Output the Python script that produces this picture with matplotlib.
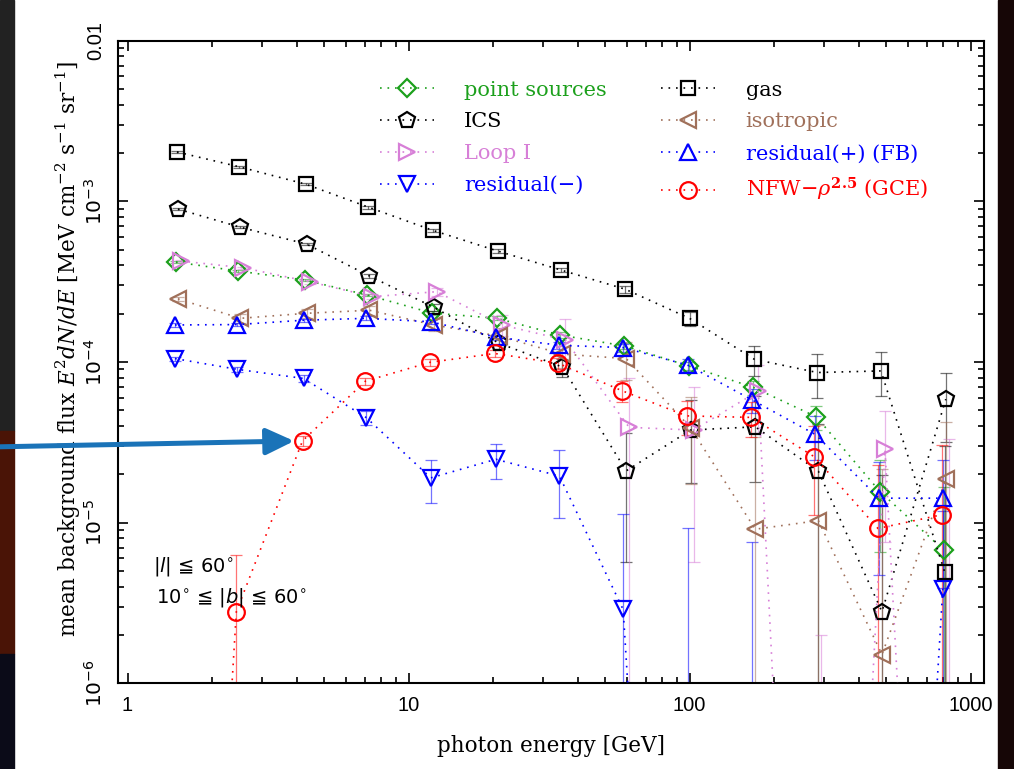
import numpy as np
import matplotlib
matplotlib.use('Agg')
import matplotlib.pyplot as plt
from matplotlib.patches import Rectangle
from matplotlib.ticker import NullFormatter

plt.rcParams['mathtext.fontset'] = 'dejavuserif'

# photon energy bins [GeV]
energy = [1.5, 2.5, 4.3, 7.2, 12.2, 20.8, 35.0, 59.0, 100.0, 170.0, 285.0, 480.0, 810.0]

# E^2 dN/dE [MeV cm^-2 s^-1 sr^-1] and 1-sigma errors
point_sources = [4.19e-4, 3.68e-4, 3.24e-4, 2.61e-4, 2.02e-4, 1.87e-4, 1.47e-4, 1.26e-4, 9.46e-5, 6.95e-5, 4.56e-5, 1.56e-5, 6.74e-6]
point_sources_err = [5e-6, 5e-6, 5e-6, 5e-6, 5e-6, 5e-6, 6e-6, 6e-6, 6e-6, 7e-6, 8e-6, 9e-6, 1e-5]
ics = [8.95e-4, 6.9e-4, 5.42e-4, 3.43e-4, 2.19e-4, 1.31e-4, 9.3e-5, 2.1e-5, 3.77e-5, 3.95e-5, 2.09e-5, 2.79e-6, 5.87e-5]
ics_err = [1e-5, 1e-5, 1e-5, 1e-5, 1e-5, 1.1e-5, 1.2e-5, 1.53e-5, 2.0e-5, 2.16e-5, 2.0e-5, 1.7e-5, 2.7e-5]
loop1 = [4.25e-4, 3.86e-4, 3.16e-4, 2.55e-4, 2.74e-4, 1.70e-4, 1.37e-4, 3.92e-5, 3.77e-5, 6.59e-5, -1e-5, 2.86e-5, -5e-6]
loop1_err = [5e-6, 6e-6, 8e-6, 1e-5, 1.5e-5, 2.5e-5, 4.7e-5, 4.05e-5, 3.2e-5, 3e-5, 1.2e-5, 2.1e-5, 3.84e-5]
res_minus = [1.05e-4, 9.0e-5, 7.9e-5, 4.5e-5, 1.90e-5, 2.48e-5, 1.95e-5, 2.88e-6, -4e-6, -5e-6, -1.5e-5, -1.5e-5, 3.89e-6]
res_minus_err = [3e-6, 3e-6, 3.5e-6, 4.5e-6, 5.7e-6, 6.2e-6, 8.8e-6, 8.4e-6, 1.32e-5, 1.26e-5, 1e-5, 1e-5, 8e-6]
gas = [2.03e-3, 1.64e-3, 1.28e-3, 9.2e-4, 6.6e-4, 4.9e-4, 3.73e-4, 2.84e-4, 1.87e-4, 1.04e-4, 8.6e-5, 8.8e-5, 4.9e-6]
gas_err = [2e-5, 2e-5, 2e-5, 2e-5, 1.5e-5, 1.2e-5, 1.2e-5, 1.4e-5, 1.9e-5, 2.2e-5, 2.6e-5, 2.7e-5, 2.5e-5]
isotropic = [2.47e-4, 1.87e-4, 2.01e-4, 2.10e-4, 1.70e-4, 1.45e-4, 1.12e-4, 1.05e-4, 3.9e-5, 9.1e-6, 1.03e-5, 1.51e-6, 1.86e-5]
isotropic_err = [8e-6, 1.2e-5, 1.3e-5, 1.4e-5, 1.5e-5, 1.8e-5, 2e-5, 2.8e-5, 2.17e-5, 2.5e-5, 3e-5, 2e-5, 2.4e-5]
res_plus = [1.70e-4, 1.71e-4, 1.82e-4, 1.87e-4, 1.78e-4, 1.43e-4, 1.27e-4, 1.23e-4, 9.57e-5, 5.8e-5, 3.54e-5, 1.42e-5, 1.42e-5]
res_plus_err = [4e-6, 4e-6, 4e-6, 5e-6, 5e-6, 5e-6, 6e-6, 7e-6, 8e-6, 1e-5, 1.1e-5, 9.5e-6, 1.03e-5]
nfw = [-2e-6, 2.79e-6, 3.23e-5, 7.6e-5, 9.95e-5, 1.13e-4, 9.8e-5, 6.62e-5, 4.62e-5, 4.52e-5, 2.57e-5, 9.2e-6, 1.12e-5]
nfw_err = [1e-6, 3.5e-6, 2.5e-6, 4e-6, 5e-6, 6e-6, 8e-6, 1e-5, 1.1e-5, 1.1e-5, 1.45e-5, 1.36e-5, 1.92e-5]

labels = ['point sources', 'ICS', 'Loop I', 'residual(\u2212)',
          'gas', 'isotropic', 'residual(+) (FB)', r'NFW$-\rho^{\mathbf{2.5}}$ (GCE)']

# style: (values, errors, marker, colour, markersize, horizontal dodge in px)
styles = [
    (point_sources, point_sources_err, 'D', '#1ca01c', 9, -1),
    (ics, ics_err, 'p', 'black', 12, 1),
    (loop1, loop1_err, '>', '#d77fd7', 11, 4),
    (res_minus, res_minus_err, 'v', '#0000ff', 11, -2),
    (gas, gas_err, 's', 'black', 10, 0),
    (isotropic, isotropic_err, '<', '#a0705a', 11, 1),
    (res_plus, res_plus_err, '^', '#0000ff', 11, -2),
    (nfw, nfw_err, 'o', '#ff0000', 12, -3),
]

floor = 1e-12
decade_px = 281.0

fig = plt.figure(figsize=(10.14, 7.69), dpi=100)
fig.patch.set_facecolor('white')
# slide background strips at the edges
fig.patches.append(Rectangle((0, 0.44), 14/1014, 0.56, transform=fig.transFigure, color='#222222', zorder=-5))
fig.patches.append(Rectangle((0, 0.15), 14/1014, 0.29, transform=fig.transFigure, color='#4a1406', zorder=-5))
fig.patches.append(Rectangle((0, 0.0), 14/1014, 0.15, transform=fig.transFigure, color='#0b0b18', zorder=-5))
fig.patches.append(Rectangle((998/1014, 0), 16/1014, 1, transform=fig.transFigure, color='#160606', zorder=-5))

ax = fig.add_axes([118/1014, 1 - 683.3/769, 865.6/1014, 642.6/769])

handles = []
for lab, (vals, errs, mk, col, ms, dx) in zip(labels, styles):
    y = np.array(vals)
    s = np.array(errs)
    x = np.array(energy) * 10 ** (dx / decade_px)
    yp = np.clip(y, floor, None)
    lo = np.clip(y - s, floor, None)
    hi = np.clip(y + s, floor, None)
    lo = np.minimum(lo, yp)
    hi = np.maximum(hi, yp)
    ax.errorbar(x, yp, yerr=[yp - lo, hi - yp], fmt='none', ecolor=col,
                elinewidth=0.9, capsize=4, capthick=0.9, alpha=0.55, zorder=2)
    h, = ax.plot(x, yp, linestyle=(0, (1, 3.5)), lw=1.2, color=col,
                 marker=mk, ms=ms, mfc='none', mec=col, mew=1.6, label=lab, zorder=3)
    handles.append(h)

ax.set_xscale('log')
ax.set_yscale('log')
ax.set_xlim(0.925, 1113)
ax.set_ylim(1e-6, 1e-2)

ax.set_xticks([1, 10, 100, 1000])
ax.set_xticklabels(['1', '10', '100', '1000'])
ax.set_yticks([1e-6, 1e-5, 1e-4, 1e-3, 1e-2])
ax.set_yticklabels([r'$10^{-6}$', r'$10^{-5}$', r'$10^{-4}$', r'$10^{-3}$', '0.01'],
                   rotation=90, va='center')
ax.xaxis.set_minor_formatter(NullFormatter())
ax.yaxis.set_minor_formatter(NullFormatter())
for t in ax.get_xticklabels() + ax.get_yticklabels():
    t.set_fontfamily('Liberation Sans')
    t.set_math_fontfamily('dejavusans')
    t.set_fontsize(14.5)

ax.tick_params(which='both', direction='in', top=True, right=True, width=1.2)
ax.tick_params(which='major', length=7.5)
ax.tick_params(which='minor', length=4.5)
ax.tick_params(axis='x', pad=9)
ax.tick_params(axis='y', pad=9)
for sp in ax.spines.values():
    sp.set_linewidth(1.5)

ax.set_xlabel('photon energy [GeV]', fontsize=15.5, fontfamily='DejaVu Serif')
ax.set_ylabel(r'mean background flux $E^2dN/dE$ [MeV cm$^{-2}$ s$^{-1}$ sr$^{-1}$]',
              fontsize=15.5, fontfamily='DejaVu Serif')
ax.xaxis.set_label_coords(0.5, -0.08)
ax.yaxis.set_label_coords(-0.040, 0.52)

leg = ax.legend(handles=handles, ncol=2, loc='upper left', bbox_to_anchor=(0.293, 0.951),
                frameon=False, prop={'family': 'DejaVu Serif', 'size': 15},
                labelcolor='linecolor', handlelength=2.6, handletextpad=1.45,
                columnspacing=2.6, labelspacing=0.62, numpoints=1, borderaxespad=0)

ax.text(0.040, 0.174, '$|l|$ \u2266 60$^{\\circ}$', transform=ax.transAxes,
        fontsize=14, family=['DejaVu Sans'], math_fontfamily='dejavusans', va='baseline')
ax.text(0.044, 0.125, '10$^{\\circ}$ \u2266 $|b|$ \u2266 60$^{\\circ}$', transform=ax.transAxes,
        fontsize=14, family=['DejaVu Sans'], math_fontfamily='dejavusans', va='baseline')

# slide annotation arrow pointing at the NFW point at ~4.3 GeV
ax.annotate('', xy=(energy[2] * 10 ** (-3 / decade_px), nfw[2]), xycoords='data',
            xytext=(-10, 769 - 447), textcoords='figure pixels',
            arrowprops=dict(arrowstyle='-|>,head_length=1.7,head_width=0.8', mutation_scale=10,
                            color='#1a73b8', lw=3.6, shrinkA=0, shrinkB=6, clip_on=False),
            annotation_clip=False)

fig.savefig('out.png', dpi=100)
